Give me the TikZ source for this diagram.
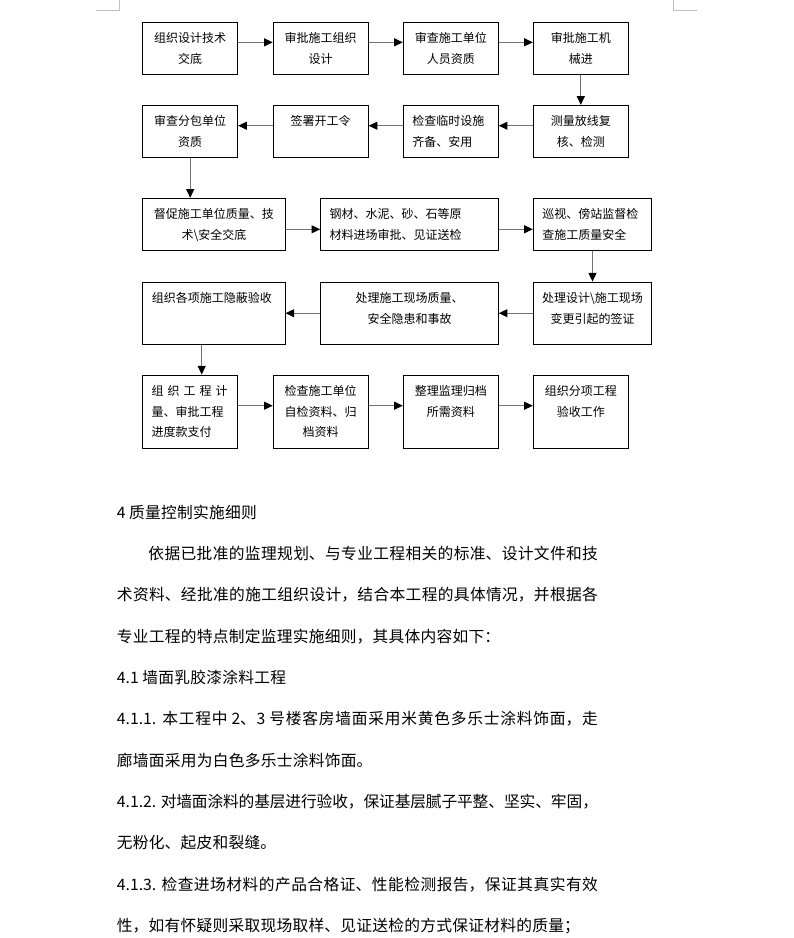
\documentclass[tikz,border=0pt]{standalone}
\usepackage{fontspec}
\setmainfont{Noto Sans CJK SC}
\usetikzlibrary{arrows.meta}
\XeTeXlinebreaklocale "zh"
\XeTeXlinebreakskip=0pt

\tikzset{
  flowbox/.style 2 args={draw, line width=0.75pt, inner xsep=4.5pt, inner ysep=0pt,
    text width=#1, text height=15.5pt, text depth=#2, align=center,
    font=\fontsize{9pt}{15.4pt}\selectfont},
  flushbox/.style={inner xsep=6.75pt, align=left},
  flow/.style={draw=black!55, line width=0.75pt,
    -{Triangle[length=6.5pt,width=6pt,color=black]}},
  cropmark/.style={draw=black!25, line width=0.75pt},
  notes/.style={text width=360.75pt, inner sep=0pt, align=justify,
    font={\fontsize{11.8pt}{31pt}\selectfont\XeTeXlinebreakskip=0.2pt plus 1.5pt minus 0.6pt}}
}

\begin{document}
\begin{tikzpicture}[x=0.75pt, y=-0.75pt]
    \path[use as bounding box, fill=white] (0,0) rectangle (793,938);
    \draw[cropmark] (96,11) -- (119,11) -- (119,0);
    \draw[cropmark] (673,0) -- (673,11) -- (697,11);

    \node[flowbox={62.25pt}{23.3pt}] (n1) at (190.2,48.2) {组织设计技术\\交底};
    \node[flowbox={62.25pt}{23.3pt}] (n2) at (320.7,48.2) {审批施工组织\\设计};
    \node[flowbox={62.25pt}{23.3pt}] (n3) at (450.8,48.2) {审查施工单位\\人员资质};
    \node[flowbox={62.25pt}{23.3pt}] (n4) at (580.8,48.2) {审批施工机\\械进};

    \node[flowbox={62.25pt}{23.3pt}] (n5) at (580.8,131.2) {测量放线复\\核、检测};
    \node[flowbox={57.75pt}{23.3pt}, flushbox] (n6) at (450.8,131.2) {检查临时设施\\齐备、安用};
    \node[flowbox={62.25pt}{23.3pt}] (n7) at (320.7,131.2) {签署开工令};
    \node[flowbox={62.25pt}{23.3pt}] (n8) at (190.2,131.2) {审查分包单位\\资质};

    \node[flowbox={97.7pt}{23.5pt}] (n9) at (213.9,224.3) {督促施工单位质量、技\\术\textbackslash 安全交底};
    \node[flowbox={119.7pt}{23.5pt}, flushbox] (n10) at (409.5,224.3) {钢材、水泥、砂、石等原\\材料进场审批、见证送检};
    \node[flowbox={75.3pt}{23.5pt}, flushbox] (n11) at (592.5,224.3) {巡视、傍站监督检\\查施工质量安全};

    \node[flowbox={79.8pt}{31.2pt}] (n12) at (592.5,313.2) {处理设计\textbackslash 施工现场\\变更引起的签证};
    \node[flowbox={124.2pt}{31.2pt}] (n13) at (409.5,313.2) {处理施工现场质量、\\安全隐患和事故};
    \node[flowbox={93.2pt}{31.2pt}, flushbox] (n14) at (213.9,313.2) {组织各项施工隐蔽验收};

    \node[flowbox={57.75pt}{39.5pt}, flushbox] (n15) at (190.2,411.7) {组 织 工 程 计\\量、审批工程\\进度款支付};
    \node[flowbox={62.25pt}{39.5pt}] (n16) at (320.7,411.7) {检查施工单位\\自检资料、归\\档资料};
    \node[flowbox={62.25pt}{39.5pt}] (n17) at (450.8,411.7) {整理监理归档\\所需资料};
    \node[flowbox={62.25pt}{39.5pt}] (n18) at (580.8,411.7) {组织分项工程\\验收工作};

    \draw[flow] ([yshift=4.4pt]n1.east) -- ([yshift=4.4pt]n2.west);
    \draw[flow] ([yshift=4.4pt]n2.east) -- ([yshift=4.4pt]n3.west);
    \draw[flow] ([yshift=4.4pt]n3.east) -- ([yshift=4.4pt]n4.west);
    \draw[flow] (n4.south) -- (n5.north);
    \draw[flow] ([yshift=4.1pt]n5.west) -- ([yshift=4.1pt]n6.east);
    \draw[flow] ([yshift=4.1pt]n6.west) -- ([yshift=4.1pt]n7.east);
    \draw[flow] ([yshift=4.1pt]n7.west) -- ([yshift=4.1pt]n8.east);
    \draw[flow] (n8.south) -- (n8.south |- n9.north);
    \draw[flow] ([yshift=-3.75pt]n9.east) -- ([yshift=-3.75pt]n10.west);
    \draw[flow] ([yshift=-3.75pt]n10.east) -- ([yshift=-3.75pt]n11.west);
    \draw[flow] (n11.south) -- (n12.north);
    \draw[flow] (n12.west) -- (n13.east);
    \draw[flow] (n13.west) -- (n14.east);
    \coordinate (drop) at ([xshift=-9.15pt]n14.south);
    \draw[flow] (drop) -- (drop |- n15.north);
    \draw[flow] ([yshift=4.5pt]n15.east) -- ([yshift=4.5pt]n16.west);
    \draw[flow] ([yshift=4.5pt]n16.east) -- ([yshift=4.5pt]n17.west);
    \draw[flow] ([yshift=4.5pt]n17.east) -- ([yshift=4.5pt]n18.west);

    \node[notes, anchor=base west] (body) at (116.7,518) {%
      4 质量控制实施细则\par
      \hspace*{2em}依据已批准的监理规划、与专业工程相关的标准、设计文件和技\linebreak
      术资料、经批准的施工组织设计，结合本工程的具体情况，并根据各\linebreak
      专业工程的特点制定监理实施细则，其具体内容如下：\par
      4.1 墙面乳胶漆涂料工程\par
      4.1.1. 本工程中 2、3 号楼客房墙面采用米黄色多乐士涂料饰面，走\linebreak
      廊墙面采用为白色多乐士涂料饰面。\par
      4.1.2. 对墙面涂料的基层进行验收，保证基层腻子平整、坚实、牢固，\linebreak
      无粉化、起皮和裂缝。\par
      4.1.3. 检查进场材料的产品合格证、性能检测报告，保证其真实有效\linebreak
      性，如有怀疑则采取现场取样、见证送检的方式保证材料的质量；};
\end{tikzpicture}
\end{document}
